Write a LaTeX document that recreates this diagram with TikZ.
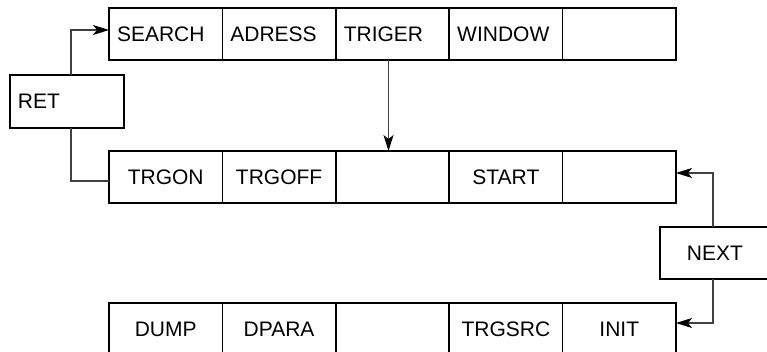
\documentclass[tikz,border=0pt]{standalone}
\usepackage{fontspec}
\setmainfont{Liberation Sans}
\usetikzlibrary{arrows.meta,positioning}

\tikzset{
  cell/.style={draw, line width=0.8pt, outer sep=0pt, inner sep=0pt,
    minimum width=56.7pt, minimum height=26pt,
    font=\fontsize{10.5}{12}\selectfont},
  leftcell/.style={cell, inner xsep=4pt, text width=48.7pt, align=left},
  link/.style={draw=black!75, line width=0.55pt},
  arr/.style={link, -{Stealth[length=8pt,width=5pt,inset=2pt,black]}}
}

\begin{document}
\begin{tikzpicture}[x=0.5pt, y=-0.5pt]
  \useasboundingbox (0,0) rectangle (767,352);

  % first row
  \node[leftcell] (a1) at (165.7,34) {SEARCH};
  \node[leftcell, right=0pt of a1] (a2) {ADRESS};
  \node[leftcell, right=0pt of a2] (a3) {TRIGER};
  \node[leftcell, right=0pt of a3] (a4) {WINDOW};
  \node[leftcell, right=0pt of a4] (a5) {};

  % second row
  \node[cell] (b1) at (165.7,177) {TRGON};
  \node[cell, right=0pt of b1] (b2) {TRGOFF};
  \node[cell, right=0pt of b2] (b3) {};
  \node[cell, right=0pt of b3] (b4) {START};
  \node[cell, right=0pt of b4] (b5) {};

  % third row
  \node[cell] (c1) at (165.7,329) {DUMP};
  \node[cell, right=0pt of c1] (c2) {DPARA};
  \node[cell, right=0pt of c2] (c3) {};
  \node[cell, right=0pt of c3] (c4) {TRGSRC};
  \node[cell, right=0pt of c4] (c5) {INIT};

  \node[leftcell, text width=49pt, minimum height=26.5pt] (ret) at (67,101.5) {RET};
  \node[cell, minimum width=55pt] (next) at (715,253) {NEXT};

  \draw[arr] ([xshift=2pt]ret.north) |- ([yshift=2pt]a1.west);
  \draw[link] ([xshift=2pt]ret.south) |- ([yshift=-2pt]b1.west);
  \draw[arr] ([xshift=-2pt]a3.south) -- ([xshift=-2pt]b3.north);
  \draw[arr] ([xshift=-1pt]next.north) |- ([yshift=2pt]b5.east);
  \draw[arr] ([xshift=-1pt]next.south) |- ([yshift=3pt]c5.east);
\end{tikzpicture}
\end{document}
